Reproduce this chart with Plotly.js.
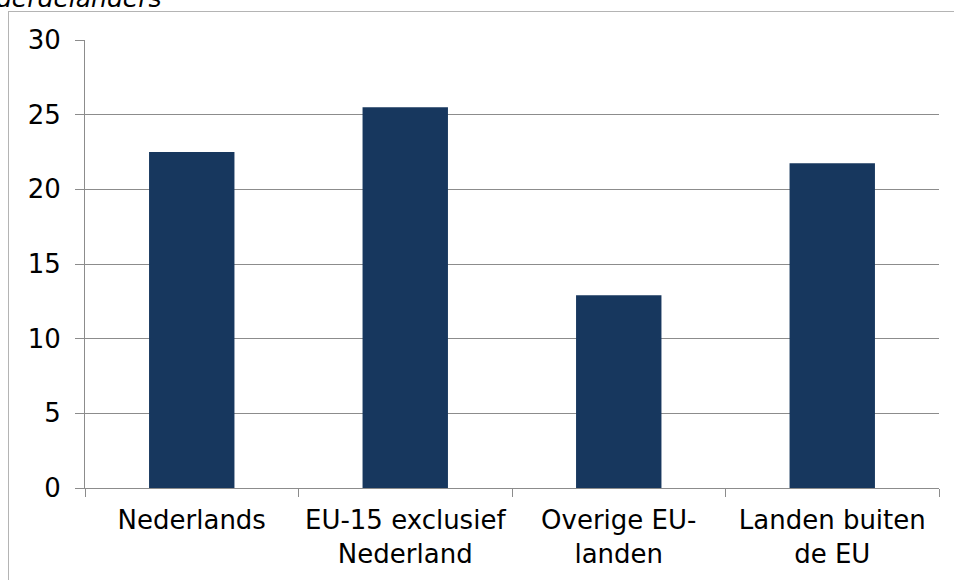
<!DOCTYPE html>
<html>
<head>
<meta charset="utf-8">
<script src="https://cdn.plot.ly/plotly-3.0.1.min.js"></script>
<style>
  html, body { margin: 0; padding: 0; background: #ffffff; }
  #chart { width: 954px; height: 580px; }
</style>
</head>
<body>
<div id="chart"></div>
<script>
// Categories (two-line tick labels) and bar values
const categories = [
  "Nederlands",
  "EU-15 exclusief<br>Nederland",
  "Overige EU-<br>landen",
  "Landen buiten<br>de EU"
];
const values = [22.5, 25.5, 12.9, 21.75];
const yTicks = [0, 5, 10, 15, 20, 25, 30];

const font = "DejaVu Sans, Verdana, sans-serif";
const gridGray = "#8c8c8c";

const trace = {
  type: "bar",
  x: categories,
  y: values,
  width: 0.4,
  marker: { color: "#17375E", line: { width: 0 } },
  hoverinfo: "skip"
};

const layout = {
  width: 954,
  height: 580,
  margin: { l: 85, r: 15, t: 40, b: 92, pad: 0 },
  paper_bgcolor: "#ffffff",
  plot_bgcolor: "#ffffff",
  showlegend: false,
  font: { family: font, size: 26, color: "#000000" },
  xaxis: {
    type: "category",
    tickson: "boundaries",
    ticks: "outside",
    ticklen: 8,
    tickcolor: gridGray,
    tickwidth: 1,
    ticklabelstandoff: 9,
    showline: true,
    linecolor: gridGray,
    linewidth: 1,
    showgrid: false,
    tickfont: { family: font, size: 26, color: "#000000" },
    fixedrange: true
  },
  yaxis: {
    range: [0, 30],
    tickvals: yTicks,
    ticktext: yTicks.map(String),
    ticks: "outside",
    ticklen: 9,
    tickcolor: gridGray,
    tickwidth: 1,
    ticklabelstandoff: 9,
    showline: true,
    linecolor: gridGray,
    linewidth: 1,
    showgrid: true,
    gridcolor: gridGray,
    gridwidth: 1,
    zeroline: false,
    tickfont: { family: font, size: 26, color: "#000000" },
    fixedrange: true
  },
  shapes: [
    // outer chart frame: top and left edges
    { type: "line", xref: "paper", yref: "paper",
      x0: (8 - 85) / 854, x1: 1.1, y0: (488 - 11.5) / 448, y1: (488 - 11.5) / 448,
      line: { color: "#b4b4b4", width: 1 } },
    { type: "line", xref: "paper", yref: "paper",
      x0: (8.5 - 85) / 854, x1: (8.5 - 85) / 854, y0: (488 - 11.5) / 448, y1: -0.3,
      line: { color: "#b4b4b4", width: 1 } }
  ],
  annotations: [
    {
      text: "<i>derdelanders</i>",
      xref: "paper", yref: "paper",
      x: (-6 - 85) / 854, y: (488 - 15) / 448,
      xanchor: "left", yanchor: "bottom",
      showarrow: false,
      font: { family: font, size: 25, color: "#000000" }
    }
  ]
};

Plotly.newPlot("chart", [trace], layout, { staticPlot: true, displayModeBar: false });
</script>
</body>
</html>
